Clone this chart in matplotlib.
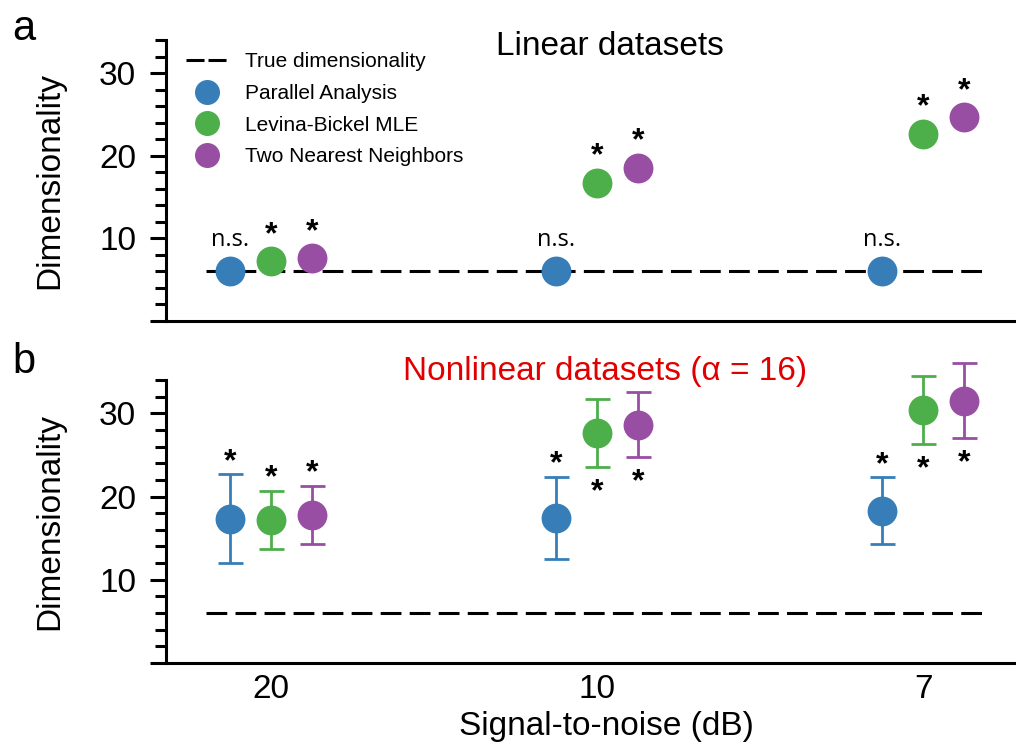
import matplotlib
matplotlib.use("Agg")
import matplotlib.pyplot as plt
from matplotlib.lines import Line2D
from matplotlib.ticker import MultipleLocator
import numpy as np

plt.rcParams['font.family'] = ['Liberation Sans', 'DejaVu Sans']

# ---- data -----------------------------------------------------------------
snr_labels = ["20", "10", "7"]
methods = ["Parallel Analysis", "Levina-Bickel MLE", "Two Nearest Neighbors"]
colors = ["#377eb8", "#4daf4a", "#984ea3"]
true_dim = 6

# Linear datasets: mean estimated dimensionality
linear_pa = [6.0, 6.0, 6.0]
linear_lb = [7.2, 16.75, 22.65]
linear_tnn = [7.6, 18.55, 24.7]
linear_sig = [["n.s.", "*", "*"], ["n.s.", "*", "*"], ["n.s.", "*", "*"]]

# Nonlinear datasets (alpha = 16): mean and error
nonlin_pa = [17.35, 17.45, 18.3]
nonlin_pa_err = [5.3, 4.95, 4.0]
nonlin_lb = [17.2, 27.65, 30.4]
nonlin_lb_err = [3.5, 4.05, 4.1]
nonlin_tnn = [17.8, 28.65, 31.5]
nonlin_tnn_err = [3.5, 3.85, 4.5]
# side of the significance star per snr group: (PA, LB, TNN)
nonlin_sig_side = [["above", "above", "above"],
                   ["above", "below", "below"],
                   ["above", "below", "below"]]

# ---- layout ---------------------------------------------------------------
W, H = 1016, 744
fig = plt.figure(figsize=(W / 100, H / 100), dpi=100)

def px_axes(l, t, r, b):
    return fig.add_axes([l / W, 1 - b / H, (r - l) / W, (b - t) / H])

ax_a = px_axes(166, 40, 1016, 321)
ax_b = px_axes(166, 380, 1016, 663)

offsets = [-0.125, 0.0, 0.125]
groups = np.arange(len(snr_labels))
ms = 21.5
star_kw = dict(textcoords="offset points", ha="center", va="baseline",
               fontsize=23, fontweight="bold")

def style_axis(ax, show_xlabels):
    ax.set_xlim(-0.322, 2.285)
    ax.set_ylim(0, 34)
    for s in ("top", "right"):
        ax.spines[s].set_visible(False)
    for s in ("left", "bottom"):
        ax.spines[s].set_linewidth(2.2)
    ax.set_yticks([0, 10, 20, 30])
    ax.set_yticklabels(["", "10", "20", "30"])
    ax.yaxis.set_minor_locator(MultipleLocator(2))
    ax.tick_params(axis="y", which="major", length=11.5, width=2.2,
                   labelsize=24, pad=10)
    ax.tick_params(axis="y", which="minor", length=8, width=2.2)
    ax.set_xticks(groups)
    if show_xlabels:
        ax.set_xticklabels(snr_labels)
    else:
        ax.set_xticklabels([])
    ax.tick_params(axis="x", length=0, labelsize=24, pad=8)
    ax.set_ylabel("Dimensionality", fontsize=24)
    ax.yaxis.set_label_coords(-0.119, 0.5)
    ax.hlines(true_dim, -0.2, 2.2, colors="black", linestyles=(0, (6.8, 2.7)),
              linewidth=2.2, zorder=1)

style_axis(ax_a, False)
style_axis(ax_b, True)

# ---- panel a: linear datasets --------------------------------------------
lin_series = [linear_pa, linear_lb, linear_tnn]
for k, (vals, c) in enumerate(zip(lin_series, colors)):
    ax_a.plot(groups + offsets[k], vals, "o", ms=ms, color=c, mew=0,
              zorder=3, clip_on=False)
    for g in groups:
        lab = linear_sig[g][k]
        if lab == "n.s.":
            ax_a.annotate(lab, (g + offsets[k], vals[g]), xytext=(0, 18),
                          textcoords="offset points", ha="center",
                          va="baseline", fontsize=17, family="Open Sans")
        else:
            ax_a.annotate(lab, (g + offsets[k], vals[g]), xytext=(0, 13),
                          **star_kw)

ax_a.text(0.522, 0.947, "Linear datasets", transform=ax_a.transAxes,
          ha="center", va="baseline", fontsize=24)

handles = [Line2D([], [], color="black", ls=(0, (5.9, 1.3)), lw=2.2)]
handles += [Line2D([], [], ls="none", marker="o", ms=18, color=c, mew=0)
            for c in colors]
ax_a.legend(handles, ["True dimensionality"] + methods, loc="upper left",
            bbox_to_anchor=(0.0235, 0.956), frameon=False, fontsize=15,
            handlelength=2.0, handletextpad=0.85, labelspacing=0.61,
            borderaxespad=0, borderpad=0)

# ---- panel b: nonlinear datasets -----------------------------------------
nl_series = [(nonlin_pa, nonlin_pa_err), (nonlin_lb, nonlin_lb_err),
             (nonlin_tnn, nonlin_tnn_err)]
for k, ((vals, errs), c) in enumerate(zip(nl_series, colors)):
    x = groups + offsets[k]
    line, caps, bars = ax_b.errorbar(x, vals, yerr=errs, fmt="o", ms=ms,
                                     color=c, ecolor=c, elinewidth=2.0,
                                     capsize=9, capthick=2.0, zorder=3)
    line.set_markeredgewidth(0)
    line.set_clip_on(False)
    for art in list(caps) + list(bars):
        art.set_clip_on(False)
    for g in groups:
        if nonlin_sig_side[g][k] == "above":
            ax_b.annotate("*", (x[g], vals[g] + errs[g]), xytext=(0, 3),
                          **star_kw)
        else:
            ax_b.annotate("*", (x[g], vals[g] - errs[g]), xytext=(0, -24),
                          **star_kw)

ax_b.text(0.516, 1.0, "Nonlinear datasets (\u03b1 = 16)", transform=ax_b.transAxes,
          ha="center", va="baseline", fontsize=24, color="#e00000")
ax_b.set_xlabel("Signal-to-noise (dB)", fontsize=24)
ax_b.xaxis.set_label_coords(0.518, -0.17)

fig.text(12 / W, 1 - 40 / H, "a", fontsize=30, va="baseline")
fig.text(12 / W, 1 - 373 / H, "b", fontsize=30, va="baseline")

fig.savefig("out.png", dpi=100)
